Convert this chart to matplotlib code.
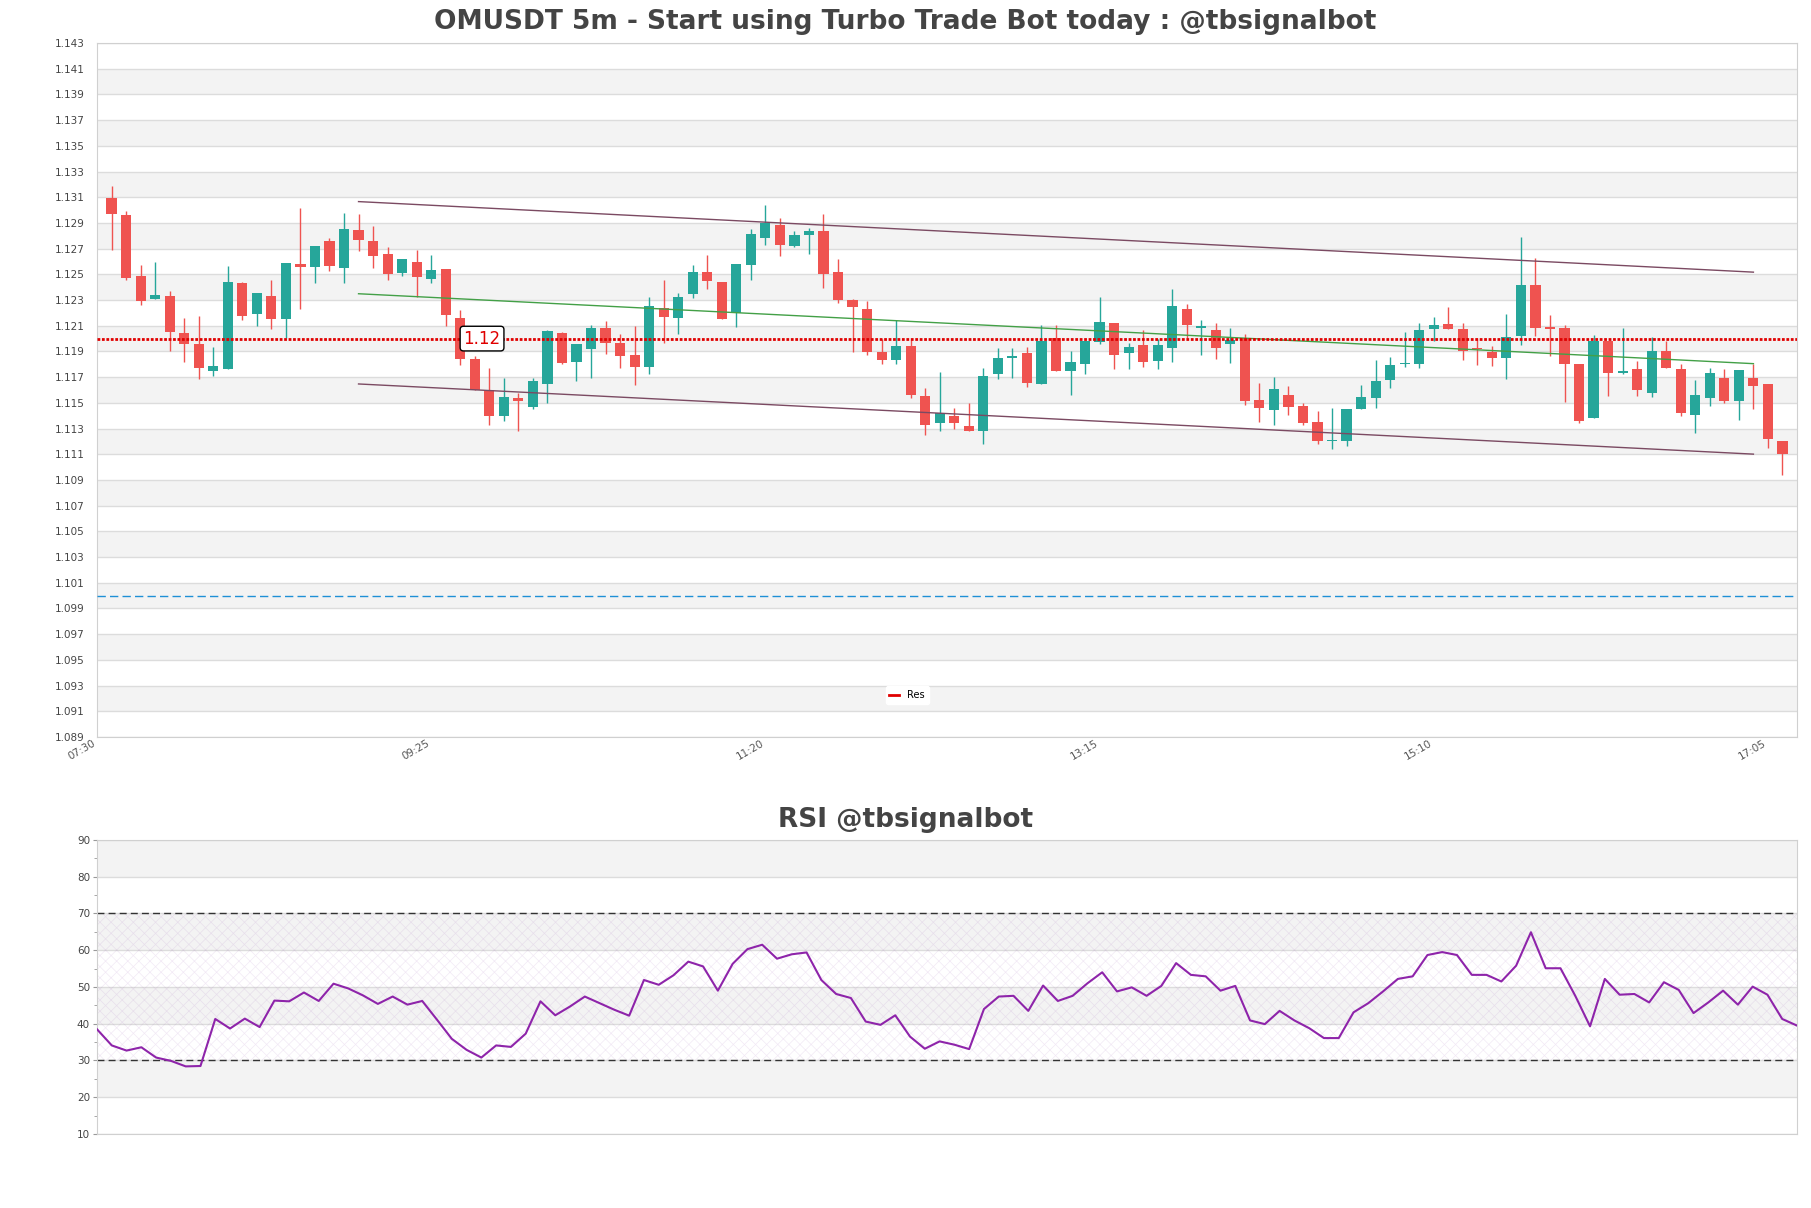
import matplotlib
matplotlib.use("Agg")
import matplotlib.pyplot as plt
from matplotlib.lines import Line2D
import numpy as np

# OHLC for OMUSDT 5m candles, 07:30 .. 17:05
opens = [1.13092, 1.12958, 1.12486, 1.12310, 1.12331, 1.12041, 1.11958, 1.11751, 1.11766, 1.12432,
         1.12194, 1.12331, 1.12155, 1.12579, 1.12559, 1.12756, 1.12551, 1.12844, 1.12756, 1.12657,
         1.12512, 1.12595, 1.12465, 1.12538, 1.12160, 1.11841, 1.11598, 1.11401, 1.11536, 1.11471,
         1.11650, 1.12041, 1.11821, 1.11922, 1.12082, 1.11963, 1.11872, 1.11782, 1.12238, 1.12162,
         1.12349, 1.12517, 1.12440, 1.12201, 1.12574, 1.12784, 1.12882, 1.12722, 1.12807, 1.12836,
         1.12517, 1.12300, 1.12230, 1.11896, 1.11836, 1.11942, 1.11554, 1.11347, 1.11396, 1.11321,
         1.11284, 1.11727, 1.11846, 1.11888, 1.11650, 1.12002, 1.11751, 1.11805, 1.11976, 1.12121,
         1.11890, 1.11950, 1.11828, 1.11929, 1.12230, 1.12085, 1.12067, 1.11960, 1.12002, 1.11523,
         1.11448, 1.11562, 1.11476, 1.11352, 1.11202, 1.11202, 1.11453, 1.11541, 1.11681, 1.11800,
         1.11805, 1.12072, 1.12113, 1.12074, 1.11929, 1.11896, 1.11852, 1.12020, 1.12416, 1.12090,
         1.12082, 1.11802, 1.11385, 1.11981, 1.11735, 1.11764, 1.11575, 1.11903, 1.11764, 1.11409,
         1.11541, 1.11696, 1.11512, 1.11694, 1.11647, 1.11207]
highs = [1.13191, 1.12996, 1.12569, 1.12595, 1.12370, 1.12160, 1.12175, 1.11935, 1.12561, 1.12440,
         1.12354, 1.12453, 1.12587, 1.13015, 1.12719, 1.12781, 1.12976, 1.12968, 1.12880, 1.12709,
         1.12616, 1.12686, 1.12647, 1.12538, 1.12222, 1.11862, 1.11769, 1.11694, 1.11580, 1.11694,
         1.12067, 1.12051, 1.11958, 1.12103, 1.12137, 1.12036, 1.12098, 1.12323, 1.12455, 1.12354,
         1.12569, 1.12649, 1.12440, 1.12579, 1.12849, 1.13040, 1.12937, 1.12841, 1.12859, 1.12968,
         1.12616, 1.12310, 1.12292, 1.11999, 1.12142, 1.11986, 1.11616, 1.11740, 1.11461, 1.11502,
         1.11771, 1.11927, 1.11927, 1.11935, 1.12103, 1.12103, 1.11903, 1.11981, 1.12323, 1.12121,
         1.11966, 1.12064, 1.11994, 1.12385, 1.12269, 1.12144, 1.12118, 1.12085, 1.12036, 1.11657,
         1.11701, 1.11631, 1.11502, 1.11440, 1.11461, 1.11453, 1.11639, 1.11831, 1.11857, 1.12051,
         1.12121, 1.12168, 1.12245, 1.12121, 1.12007, 1.11942, 1.12191, 1.12789, 1.12626, 1.12186,
         1.12103, 1.11805, 1.12025, 1.11981, 1.12082, 1.11826, 1.12010, 1.11981, 1.11805, 1.11681,
         1.11769, 1.11764, 1.11756, 1.11805, 1.11647, 1.11207]
lows = [1.12691, 1.12453, 1.12263, 1.12305, 1.11906, 1.11821, 1.11688, 1.11712, 1.11760, 1.12147,
        1.12100, 1.12077, 1.12007, 1.12227, 1.12434, 1.12528, 1.12434, 1.12683, 1.12551, 1.12453,
        1.12489, 1.12320, 1.12434, 1.12095, 1.11792, 1.11598, 1.11331, 1.11362, 1.11279, 1.11455,
        1.11502, 1.11800, 1.11673, 1.11696, 1.11880, 1.11771, 1.11642, 1.11722, 1.11968, 1.12038,
        1.12318, 1.12388, 1.12155, 1.12093, 1.12458, 1.12730, 1.12642, 1.12712, 1.12660, 1.12396,
        1.12279, 1.11896, 1.11875, 1.11805, 1.11805, 1.11541, 1.11253, 1.11284, 1.11300, 1.11284,
        1.11181, 1.11688, 1.11694, 1.11624, 1.11650, 1.11751, 1.11564, 1.11727, 1.11960, 1.11761,
        1.11761, 1.11782, 1.11766, 1.11821, 1.12007, 1.11875, 1.11844, 1.11813, 1.11486, 1.11352,
        1.11326, 1.11409, 1.11331, 1.11183, 1.11139, 1.11165, 1.11453, 1.11461, 1.11619, 1.11782,
        1.11774, 1.11979, 1.12072, 1.11836, 1.11792, 1.11784, 1.11683, 1.11953, 1.12020, 1.11862,
        1.11507, 1.11341, 1.11385, 1.11551, 1.11722, 1.11551, 1.11543, 1.11769, 1.11401, 1.11264,
        1.11474, 1.11502, 1.11365, 1.11450, 1.11145, 1.10937]
closes = [1.12971, 1.12471, 1.12295, 1.12339, 1.12054, 1.11960, 1.11774, 1.11787, 1.12440, 1.12178,
          1.12354, 1.12155, 1.12587, 1.12559, 1.12719, 1.12566, 1.12851, 1.12769, 1.12644, 1.12504,
          1.12616, 1.12481, 1.12530, 1.12186, 1.11844, 1.11598, 1.11401, 1.11543, 1.11518, 1.11670,
          1.12056, 1.11810, 1.11958, 1.12082, 1.11968, 1.11867, 1.11782, 1.12253, 1.12170, 1.12323,
          1.12517, 1.12450, 1.12155, 1.12579, 1.12813, 1.12901, 1.12730, 1.12805, 1.12836, 1.12504,
          1.12302, 1.12248, 1.11898, 1.11836, 1.11942, 1.11564, 1.11331, 1.11419, 1.11347, 1.11284,
          1.11709, 1.11849, 1.11867, 1.11657, 1.11981, 1.11751, 1.11818, 1.11981, 1.12129, 1.11875,
          1.11935, 1.11821, 1.11950, 1.12253, 1.12108, 1.12098, 1.11929, 1.11992, 1.11515, 1.11463,
          1.11608, 1.11471, 1.11347, 1.11202, 1.11209, 1.11453, 1.11546, 1.11670, 1.11795, 1.11813,
          1.12067, 1.12105, 1.12077, 1.11906, 1.11916, 1.11852, 1.12012, 1.12416, 1.12080, 1.12077,
          1.11800, 1.11357, 1.11981, 1.11730, 1.11748, 1.11603, 1.11903, 1.11769, 1.11419, 1.11562,
          1.11735, 1.11512, 1.11756, 1.11629, 1.11217, 1.11101]

rsi = [38.5, 34.1, 32.7, 33.6, 30.8, 29.9, 28.4, 28.5, 41.3, 38.7,
       41.4, 39.1, 46.3, 46.1, 48.5, 46.2, 50.9, 49.6, 47.7, 45.4,
       47.4, 45.2, 46.2, 41.1, 35.9, 32.9, 30.8, 34.1, 33.7, 37.3,
       46.1, 42.3, 44.7, 47.4, 45.6, 43.8, 42.2, 51.9, 50.6, 53.2,
       56.9, 55.6, 49.0, 56.3, 60.3, 61.5, 57.7, 58.9, 59.4, 51.9,
       48.1, 47.0, 40.6, 39.7, 42.3, 36.5, 33.2, 35.2, 34.3, 33.1,
       44.0, 47.4, 47.6, 43.5, 50.4, 46.2, 47.6, 51.0, 54.0, 48.8,
       49.9, 47.6, 50.3, 56.5, 53.3, 52.9, 49.0, 50.3, 40.9, 39.9,
       43.5, 40.9, 38.8, 36.1, 36.1, 43.1, 45.6, 48.8, 52.2, 52.9,
       58.7, 59.5, 58.7, 53.3, 53.3, 51.5, 55.8, 64.9, 55.1, 55.1,
       47.6, 39.3, 52.2, 47.9, 48.1, 45.8, 51.3, 49.2, 42.9, 45.8,
       49.0, 45.2, 50.1, 47.9, 41.3, 39.5]

tick_labels = ["07:30", "09:25", "11:20", "13:15", "15:10", "17:05"]

# channel lines (candle index start/end, price start/end)
chan_x = [18, 114]
upper_chan = [1.13066, 1.12517]
lower_chan = [1.11647, 1.11101]
mid_chan = [1.12349, 1.11805]
res_level = 1.12
sup_level = 1.10

up_col = "#26a69a"
dn_col = "#ef5350"
band_col = "#f3f3f3"
grid_col = "#dcdcdc"
text_col = "#444444"

plt.rcParams["hatch.linewidth"] = 0.5

fig = plt.figure(figsize=(18.11, 12.08), dpi=100)
ax = fig.add_axes([0.05356, 0.38990, 0.93871, 0.57450])
ax2 = fig.add_axes([0.05356, 0.06126, 0.93871, 0.24338])

n = len(opens)
x = np.arange(1, n + 1)
o = np.array(opens); h = np.array(highs); l = np.array(lows); c = np.array(closes)
up = c >= o
cols = np.where(up, up_col, dn_col)

# background bands + grid
yt = np.round(np.arange(1.089, 1.1431, 0.002), 3)
for k in range(13):
    lo = 1.091 + 0.004 * k
    ax.axhspan(lo, lo + 0.002, color=band_col, zorder=0, lw=0)
for v in yt:
    ax.axhline(v, color=grid_col, lw=1, zorder=0.5)

ax.vlines(x, l, h, colors=cols, lw=1, zorder=2)
body_lo = np.minimum(o, c)
body_h = np.maximum(np.abs(c - o), 0.00008)
ax.bar(x, body_h, bottom=body_lo, width=0.7, color=cols, zorder=3, lw=0)

ax.plot(chan_x, upper_chan, color="#7b4a62", lw=1, zorder=4)
ax.plot(chan_x, lower_chan, color="#7b4a62", lw=1, zorder=4)
ax.plot(chan_x, mid_chan, color="#43a047", lw=1, zorder=4)

ax.axhline(res_level, color="#e00000", ls=(0, (1, 0.6)), lw=2, zorder=4)
ax.axhline(sup_level, color="#1e90d6", ls=(0, (6, 3)), lw=1, zorder=4)
ax.text(26.5, res_level, "1.12", color="#e00000", fontsize=12, ha="center", va="center", zorder=6,
        bbox=dict(boxstyle="round,pad=0.2", fc="white", ec="black", lw=1))

ax.set_xlim(0, n + 1)
ax.set_ylim(1.089, 1.143)
ax.set_yticks(yt)
ax.set_yticklabels([f"{v:.3f}" for v in yt])
ax.set_xticks(np.arange(0, n, 23))
ax.set_xticklabels(tick_labels, rotation=30, ha="right")
ax.tick_params(axis="y", length=0, pad=9, labelsize=7.5, labelcolor=text_col)
ax.tick_params(axis="x", length=0, pad=1, labelsize=7.5, labelcolor="#555555")
for s in ax.spines.values():
    s.set_color("#d0d0d0")

res_handle = Line2D([], [], color="#e00000", lw=2)
ax.legend([res_handle], ["Res"], loc="center", bbox_to_anchor=(0.4765, 0.06), fontsize=7,
          handlelength=1.0, frameon=True, framealpha=1, facecolor="white", edgecolor="white",
          borderpad=0.4)

# RSI panel
for lo in [20, 40, 60, 80]:
    ax2.axhspan(lo, lo + 10, color=band_col, zorder=0, lw=0)
for v in range(10, 91, 10):
    ax2.axhline(v, color=grid_col, lw=1, zorder=0.5)
ax2.axhspan(30, 70, facecolor="none", edgecolor="#9b59b6", alpha=0.13, hatch="xxx", lw=0, zorder=1)
ax2.axhline(70, color="#333333", ls=(0, (5, 3)), lw=1, zorder=2)
ax2.axhline(30, color="#333333", ls=(0, (5, 3)), lw=1, zorder=2)
ax2.plot(np.arange(n), rsi, color="#8e24aa", lw=1.5, zorder=3)
ax2.set_xlim(0, n - 1)
ax2.set_ylim(10, 90)
ax2.set_yticks(range(10, 91, 10))
ax2.set_yticks(range(15, 90, 10), minor=True)
ax2.set_xticks([])
ax2.tick_params(axis="y", which="major", length=3, color="#999999", labelsize=7.5, labelcolor=text_col, pad=2)
ax2.tick_params(axis="y", which="minor", length=2, color="#999999")
for s in ax2.spines.values():
    s.set_color("#d0d0d0")

fig.text(0.5, 1 - 22 / 1208, "OMUSDT 5m - Start using Turbo Trade Bot today : @tbsignalbot",
         ha="center", va="center", fontsize=19, fontweight="bold", color=text_col)
fig.text(0.5, 1 - 820 / 1208, "RSI @tbsignalbot", ha="center", va="center",
         fontsize=19, fontweight="bold", color=text_col)

fig.savefig("out.png", dpi=100)
